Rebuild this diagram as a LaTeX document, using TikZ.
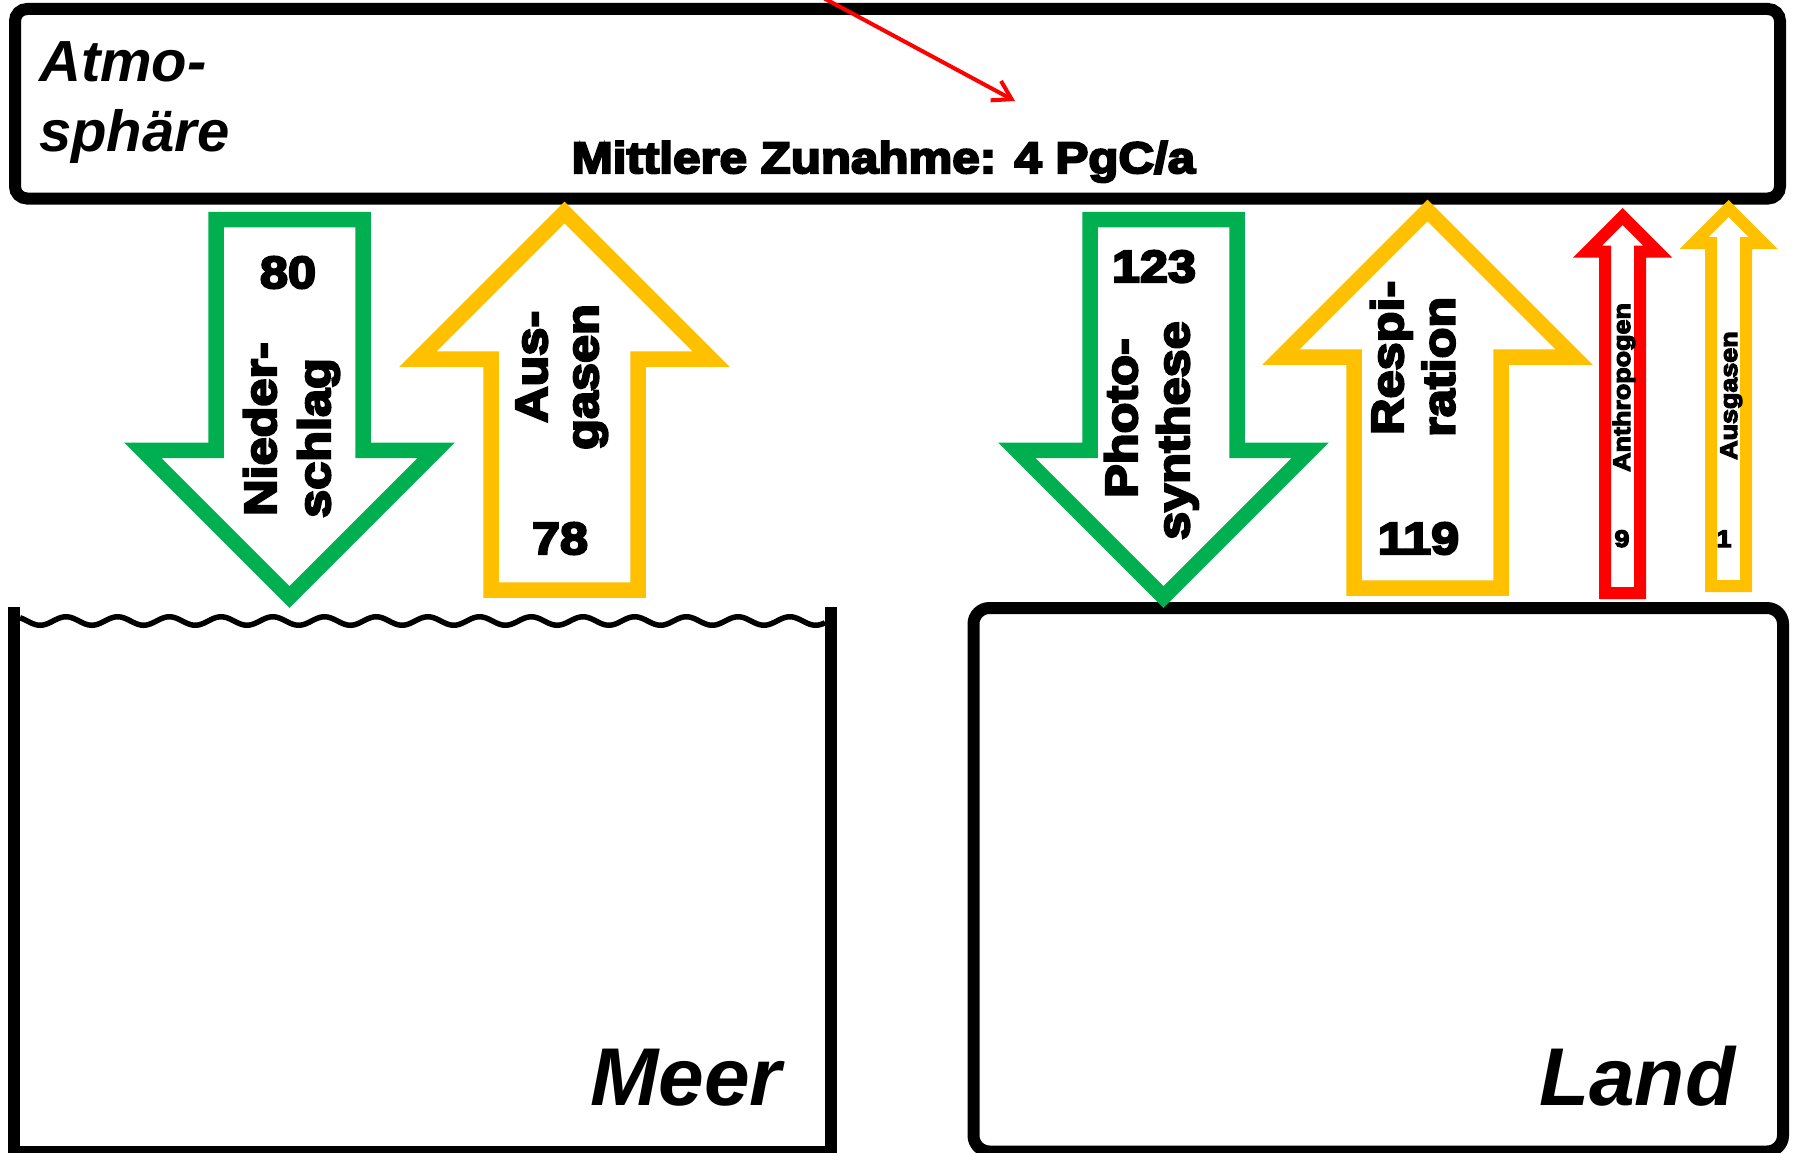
\documentclass[tikz,border=0pt]{standalone}
\usepackage{fontspec}
\setmainfont{Liberation Sans}
\newfontfamily\heavyfont{Liberation Sans}[FakeStretch=1.12, FakeBold=5]
\usetikzlibrary{arrows.meta}
\definecolor{flowgreen}{HTML}{00B050}
\definecolor{flowgold}{HTML}{FFC000}
\definecolor{flowred}{HTML}{FF0000}

% block arrow pointing up: style, centre x, tail y, tip y, shaft half width, head half width
\newcommand\flowup[6]{%
  \draw[#1] ({#2-#5},#3) -- ({#2-#5},{#4+#6}) -- ({#2-#6},{#4+#6}) -- (#2,#4)
    -- ({#2+#6},{#4+#6}) -- ({#2+#5},{#4+#6}) -- ({#2+#5},#3) -- cycle;}
% block arrow pointing down: same arguments
\newcommand\flowdown[6]{%
  \draw[#1] ({#2-#5},#3) -- ({#2-#5},{#4-#6}) -- ({#2-#6},{#4-#6}) -- (#2,#4)
    -- ({#2+#6},{#4-#6}) -- ({#2+#5},{#4-#6}) -- ({#2+#5},#3) -- cycle;}

\begin{document}
\begin{tikzpicture}[x=1pt, y=-1pt,
  boxline/.style={line width=12pt, black},
  bigflow/.style={line width=15.5pt, fill=white, line join=miter},
  smallflow/.style={line width=12pt, fill=white, line join=miter},
  lbl/.style={inner sep=0pt, font=\heavyfont\bfseries\fontsize{45}{52}\selectfont},
  vlbl/.style={lbl, rotate=90, anchor=base west},
  smalllbl/.style={inner sep=0pt, font=\heavyfont\bfseries\fontsize{24}{28}\selectfont},
  vsmall/.style={smalllbl, rotate=90, anchor=base west},
  region/.style={inner sep=0pt, anchor=base west, font=\bfseries\itshape\fontsize{82}{90}\selectfont},
  regionsmall/.style={inner sep=0pt, anchor=base west, font=\bfseries\itshape\fontsize{58}{70}\selectfont},
  redline/.style={flowred, line width=4pt, -{Straight Barb[length=18pt, width=22pt]}}]
\useasboundingbox (0,0) rectangle (1793,1153);
\fill[white] (0,0) rectangle (1793,1153);

% reservoirs
\draw[boxline, rounded corners=12pt] (15,9) rectangle (1780,198.5);
\draw[boxline, line join=miter] (14,607) -- (14,1151.5) -- (831,1151.5) -- (831,607);
\draw[black, line width=5.5pt]
  plot[domain=20:825, samples=320, smooth] (\x, {621 - 4.25*cos(6.9632*(\x-14.3))});
\draw[boxline, rounded corners=16pt] (973.5,608) rectangle (1783,1151.5);

% reservoir names
\node[regionsmall] (atm1) at (39,82) {Atmo-};
\node[regionsmall] (atm2) at (39,152) {sphäre};
\node[region] (meer) at (590,1105) {Meer};
\node[region] (land) at (1539,1105) {Land};
\node[lbl, font=\heavyfont\bfseries\fontsize{44}{50}\selectfont, anchor=base] (zunahme) at (883.5,173) {Mittlere Zunahme: 4 PgC/a};

% increase marker
\coordinate (rs) at (818,-5);
\coordinate (re) at (1015,101);
\draw[redline] (rs) -- (re);

% ocean fluxes
\flowdown{bigflow, draw=flowgreen}{289.5}{219.5}{597}{73.5}{146.7}
\flowup{bigflow, draw=flowgold}{564.5}{590}{212.5}{73.5}{146.5}
% land fluxes
\flowdown{bigflow, draw=flowgreen}{1163.5}{219.5}{597}{73.5}{146.7}
\flowup{bigflow, draw=flowgold}{1427.5}{588}{210.5}{73.5}{146.5}
\flowup{smallflow, draw=flowred}{1622.5}{593}{216.5}{17.5}{35}
\flowup{smallflow, draw=flowgold}{1728.5}{586}{208.5}{17.5}{34.5}

% flux labels
\node[lbl, anchor=base] (n80) at (288,288) {80};
\node[vlbl] (nied1) at (276,516) {Nieder-};
\node[vlbl] (nied2) at (330,518) {schlag};

\node[lbl, anchor=base] (n78) at (560,554) {78};
\node[vlbl] (aus1) at (547,423) {Aus-};
\node[vlbl] (aus2) at (598,450) {gasen};

\node[lbl, anchor=base] (n123) at (1154,282) {123};
\node[vlbl] (pho1) at (1137,498) {Photo-};
\node[vlbl] (pho2) at (1189,540) {synthese};

\node[lbl, anchor=base] (n119) at (1418.5,554) {119};
\node[vlbl] (res1) at (1403,435) {Respi-};
\node[vlbl] (res2) at (1454.5,437) {ration};

\node[smalllbl, anchor=base] (n9) at (1622,547) {9};
\node[vsmall] (anth) at (1630,472) {Anthropogen};
\node[smalllbl, anchor=base] (n1) at (1724,547) {1};
\node[vsmall] (ausg) at (1737,460) {Ausgasen};
\end{tikzpicture}
\end{document}
